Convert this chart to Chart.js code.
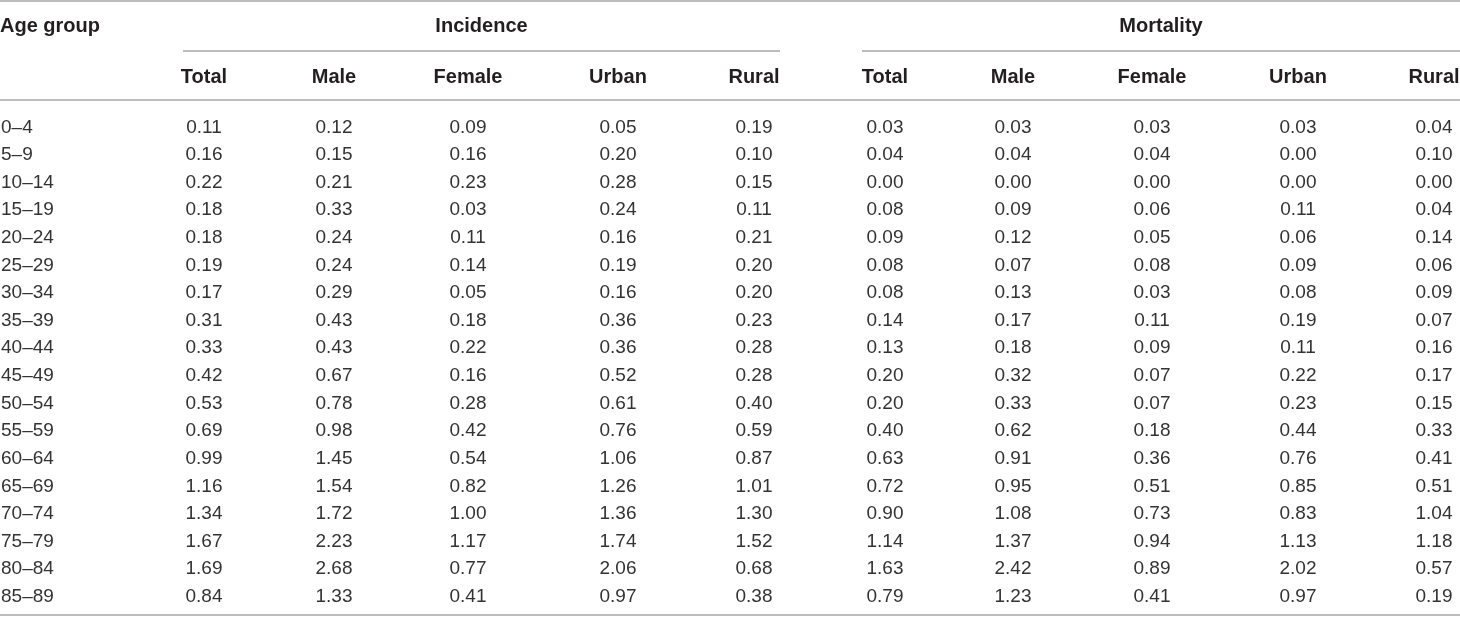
<!DOCTYPE html>
<html>
<head>
<meta charset="utf-8">
<script src="https://cdn.jsdelivr.net/npm/chart.js@4.4.1/dist/chart.umd.min.js"></script>
<style>
    html, body { margin: 0; padding: 0; background: #fff; }
    #tabla { display: block; }
</style>
</head>
<body>
<canvas id="tabla" width="1460" height="618"></canvas>
<script>
// Rows
let ageGroups = ['0–4', '5–9', '10–14', '15–19', '20–24', '25–29', '30–34', '35–39', '40–44',
    '45–49', '50–54', '55–59', '60–64', '65–69', '70–74', '75–79', '80–84', '85–89'];
let colNames = ['Total', 'Male', 'Female', 'Urban', 'Rural'];

// Incidence
let incTotal = [0.11, 0.16, 0.22, 0.18, 0.18, 0.19, 0.17, 0.31, 0.33, 0.42, 0.53, 0.69, 0.99, 1.16, 1.34, 1.67, 1.69, 0.84];
let incMale = [0.12, 0.15, 0.21, 0.33, 0.24, 0.24, 0.29, 0.43, 0.43, 0.67, 0.78, 0.98, 1.45, 1.54, 1.72, 2.23, 2.68, 1.33];
let incFemale = [0.09, 0.16, 0.23, 0.03, 0.11, 0.14, 0.05, 0.18, 0.22, 0.16, 0.28, 0.42, 0.54, 0.82, 1.00, 1.17, 0.77, 0.41];
let incUrban = [0.05, 0.20, 0.28, 0.24, 0.16, 0.19, 0.16, 0.36, 0.36, 0.52, 0.61, 0.76, 1.06, 1.26, 1.36, 1.74, 2.06, 0.97];
let incRural = [0.19, 0.10, 0.15, 0.11, 0.21, 0.20, 0.20, 0.23, 0.28, 0.28, 0.40, 0.59, 0.87, 1.01, 1.30, 1.52, 0.68, 0.38];

// Mortality
let mortTotal = [0.03, 0.04, 0.00, 0.08, 0.09, 0.08, 0.08, 0.14, 0.13, 0.20, 0.20, 0.40, 0.63, 0.72, 0.90, 1.14, 1.63, 0.79];
let mortMale = [0.03, 0.04, 0.00, 0.09, 0.12, 0.07, 0.13, 0.17, 0.18, 0.32, 0.33, 0.62, 0.91, 0.95, 1.08, 1.37, 2.42, 1.23];
let mortFemale = [0.03, 0.04, 0.00, 0.06, 0.05, 0.08, 0.03, 0.11, 0.09, 0.07, 0.07, 0.18, 0.36, 0.51, 0.73, 0.94, 0.89, 0.41];
let mortUrban = [0.03, 0.00, 0.00, 0.11, 0.06, 0.09, 0.08, 0.19, 0.11, 0.22, 0.23, 0.44, 0.76, 0.85, 0.83, 1.13, 2.02, 0.97];
let mortRural = [0.04, 0.10, 0.00, 0.04, 0.14, 0.06, 0.09, 0.07, 0.16, 0.17, 0.15, 0.33, 0.41, 0.51, 1.04, 1.18, 0.57, 0.19];

// Layout (column centres on the x scale, header positions in px)
const incCols = [204, 334, 468, 618, 754];
const mortCols = [885, 1013, 1152, 1298, 1434];
const FONT = '"Liberation Sans", Arial, sans-serif';
const FS = 19;
const FS_HEAD = 20;
const RULE = '#a9a9a9';

function columna(values, x) {
    return values.map((v, i) => ({ x: x, y: ageGroups[i], v: v }));
}

let series = [incTotal, incMale, incFemale, incUrban, incRural,
    mortTotal, mortMale, mortFemale, mortUrban, mortRural];
let colX = incCols.concat(mortCols);

let datasets = series.map((vals, k) => ({
    label: (k < 5 ? 'Incidence ' : 'Mortality ') + colNames[k % 5],
    data: columna(vals, colX[k]),
    pointRadius: 0,
    pointHoverRadius: 0
}));

// Draws rules, headers and cell text
const tablePlugin = {
    id: 'tablePlugin',
    afterDatasetsDraw(chart) {
        let ctx = chart.ctx;
        let xs = chart.scales.x;
        let ys = chart.scales.y;
        let W = chart.width;

        function rule(x1, x2, y) {
            ctx.beginPath();
            ctx.moveTo(x1, y);
            ctx.lineTo(x2, y);
            ctx.lineWidth = 1.5;
            ctx.strokeStyle = RULE;
            ctx.stroke();
        }

        ctx.save();
        rule(0, W, 1);
        rule(xs.getPixelForValue(183), xs.getPixelForValue(780), 51);
        rule(xs.getPixelForValue(862), W, 51);
        rule(0, W, 100);
        rule(0, W, 615);

        // headers
        ctx.fillStyle = '#231f20';
        ctx.font = 'bold ' + FS_HEAD + 'px ' + FONT;
        ctx.textBaseline = 'alphabetic';
        ctx.textAlign = 'left';
        ctx.fillText('Age group', 0, 32);
        ctx.textAlign = 'center';
        ctx.fillText('Incidence', xs.getPixelForValue((183 + 780) / 2), 32);
        ctx.fillText('Mortality', xs.getPixelForValue((862 + 1460) / 2), 32);
        colX.forEach((cx, k) => {
            ctx.fillText(colNames[k % 5], xs.getPixelForValue(cx), 83);
        });

        // row labels and cells
        let off = FS * 0.358;
        ctx.font = FS + 'px ' + FONT;
        ctx.fillStyle = '#333';
        ctx.textAlign = 'left';
        ageGroups.forEach((g, j) => {
            ctx.fillText(g, 1, ys.getPixelForValue(j) + off);
        });
        ctx.textAlign = 'center';
        chart.data.datasets.forEach((ds, k) => {
            let meta = chart.getDatasetMeta(k);
            meta.data.forEach((pt, j) => {
                ctx.fillText(ds.data[j].v.toFixed(2), pt.x, pt.y + off);
            });
        });
        ctx.restore();
    }
};

let tabla = new Chart(document.getElementById('tabla').getContext('2d'), {
    type: 'scatter',
    data: { datasets: datasets },
    options: {
        responsive: false,
        animation: false,
        events: [],
        layout: { padding: { top: 112, bottom: 9, left: 0, right: 0 } },
        scales: {
            x: { type: 'linear', min: 0, max: 1460, display: false },
            y: { type: 'category', labels: ageGroups, offset: true, display: false }
        },
        plugins: {
            legend: { display: false },
            tooltip: { enabled: false }
        }
    },
    plugins: [tablePlugin]
});
</script>
</body>
</html>
